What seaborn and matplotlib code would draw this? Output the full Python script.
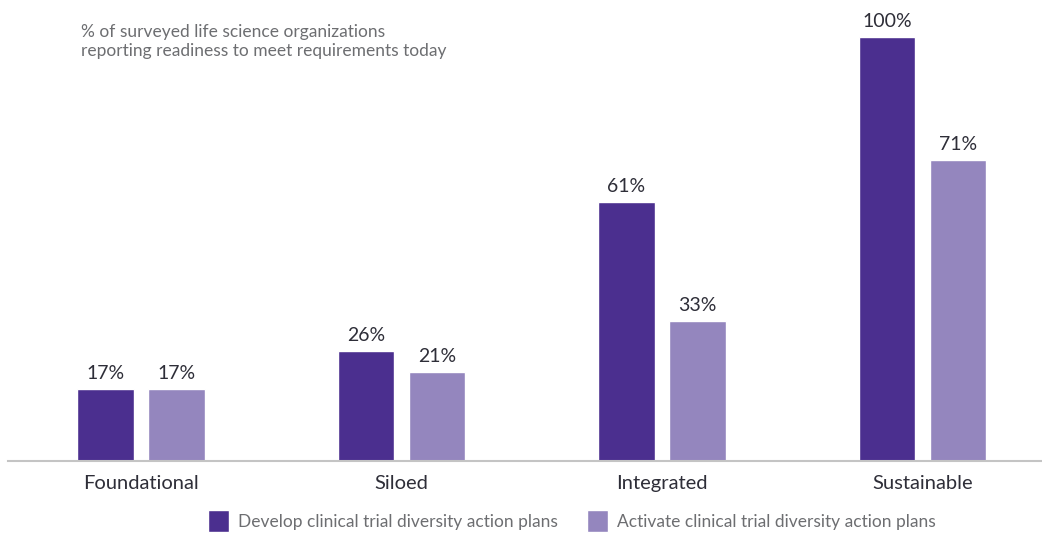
import matplotlib
matplotlib.use("Agg")
import matplotlib.pyplot as plt
import pandas as pd
import seaborn as sns
from matplotlib.patches import Patch

categories = ["Foundational", "Siloed", "Integrated", "Sustainable"]
series = ["Develop clinical trial diversity action plans",
          "Activate clinical trial diversity action plans"]
develop = [17, 26, 61, 100]
activate = [17, 21, 33, 71]
colors = ["#4b2f8f", "#9486be"]

df = pd.DataFrame({
    "stage": categories * 2,
    "series": [series[0]] * 4 + [series[1]] * 4,
    "value": develop + activate,
})

sns.set_style("white")
plt.rcParams["font.family"] = ["Lato", "DejaVu Sans"]

fig = plt.figure(figsize=(10.42, 5.34), dpi=100)
ax = fig.add_axes([8 / 1042, 73 / 534, 1034 / 1042, 451 / 534])

sns.barplot(data=df, x="stage", y="value", hue="series", palette=colors,
            width=0.545, gap=0.2, saturation=1, legend=False, ax=ax)

for c in ax.containers:
    ax.bar_label(c, fmt="{:.0f}%", padding=5, fontsize=14, color="#2e2e38")

ax.set_xlim(-0.5106, 3.459)
ax.set_ylim(0, 106.4)
ax.set_xlabel("")
ax.set_ylabel("")
ax.set_yticks([])
ax.tick_params(axis="x", length=0, labelsize=14.5, labelcolor="#2e2e38", pad=10)
for s in ["top", "right", "left"]:
    ax.spines[s].set_visible(False)
ax.spines["bottom"].set_color("#c4c4c4")
ax.spines["bottom"].set_linewidth(1.5)

fig.text(81 / 1042, 1 - 24 / 534,
         "% of surveyed life science organizations\nreporting readiness to meet requirements today",
         fontsize=12.5, color="#6d6e71", va="top", ha="left", linespacing=1.25)

handles = [Patch(facecolor=colors[i], label=series[i]) for i in range(2)]
fig.legend(handles=handles, loc="center", bbox_to_anchor=(572 / 1042, 1 - 521 / 534),
           ncol=2, frameon=False, fontsize=12.5, handlelength=1.2, handleheight=1.5,
           handletextpad=0.5, columnspacing=1.7, labelcolor="#6d6e71")

fig.savefig("out.png", dpi=100)
